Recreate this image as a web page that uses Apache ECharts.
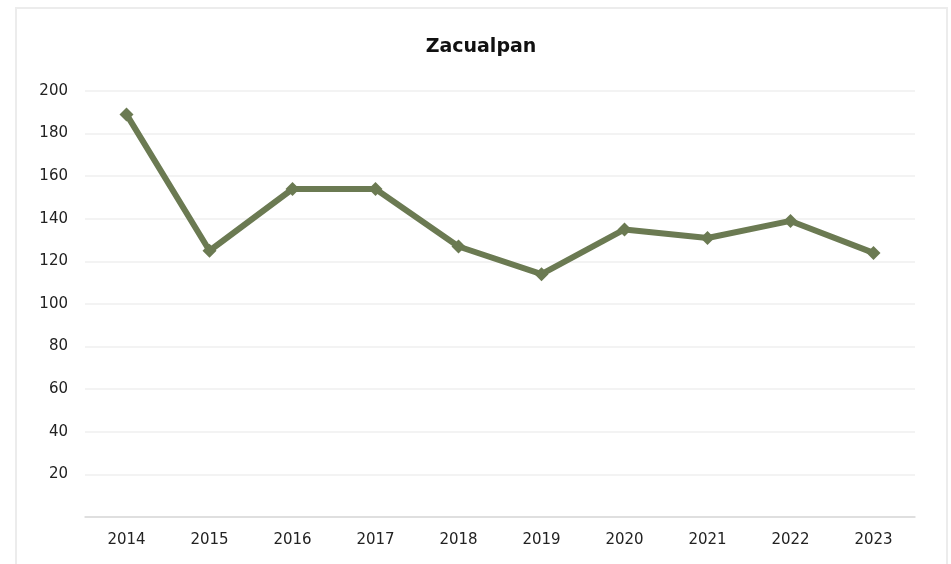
<!DOCTYPE html>
<html>
<head>
<meta charset="utf-8">
<script src="https://cdn.jsdelivr.net/npm/echarts@6/dist/echarts.min.js"></script>
<style>
  html, body { margin: 0; padding: 0; background: #fff; }
  #main { width: 951px; height: 564px; }
</style>
</head>
<body>
<div id="main"></div>
<script>
const years = ['2014', '2015', '2016', '2017', '2018', '2019', '2020', '2021', '2022', '2023'];
const values = [189, 125, 154, 154, 127, 114, 135, 131, 139, 124];

const chart = echarts.init(document.getElementById('main'));

const option = {
    backgroundColor: '#fff',
    textStyle: { fontFamily: 'DejaVu Sans' },
    graphic: [{
        type: 'rect',
        shape: { x: 16, y: 8, width: 931, height: 570 },
        style: { fill: 'none', stroke: '#ececec', lineWidth: 2 },
        silent: true
    }],
    title: {
        text: 'Zacualpan',
        left: 476,
        textAlign: 'center',
        top: 33,
        textStyle: { fontSize: 19, fontWeight: 'bold', color: '#111' }
    },
    grid: { left: 85, right: 36, top: 91, bottom: 47 },
    xAxis: {
        type: 'category',
        data: years,
        boundaryGap: true,
        axisLine: { lineStyle: { color: '#d9d9d9', width: 1.5 } },
        axisTick: { show: false },
        axisLabel: { color: '#222', fontSize: 15, margin: 16 }
    },
    yAxis: {
        type: 'value',
        min: 0,
        max: 200,
        interval: 20,
        axisLine: { show: false },
        axisTick: { show: false },
        splitLine: { lineStyle: { color: '#efefef', width: 1.5 } },
        axisLabel: {
            color: '#222',
            fontSize: 15,
            margin: 17,
            formatter: v => (v === 0 ? '' : v)
        }
    },
    series: [{
        type: 'line',
        data: values,
        symbol: 'diamond',
        symbolSize: 14,
        lineStyle: { color: '#6b7a52', width: 6 },
        itemStyle: { color: '#6b7a52' }
    }]
};

chart.setOption(option);
</script>
</body>
</html>
